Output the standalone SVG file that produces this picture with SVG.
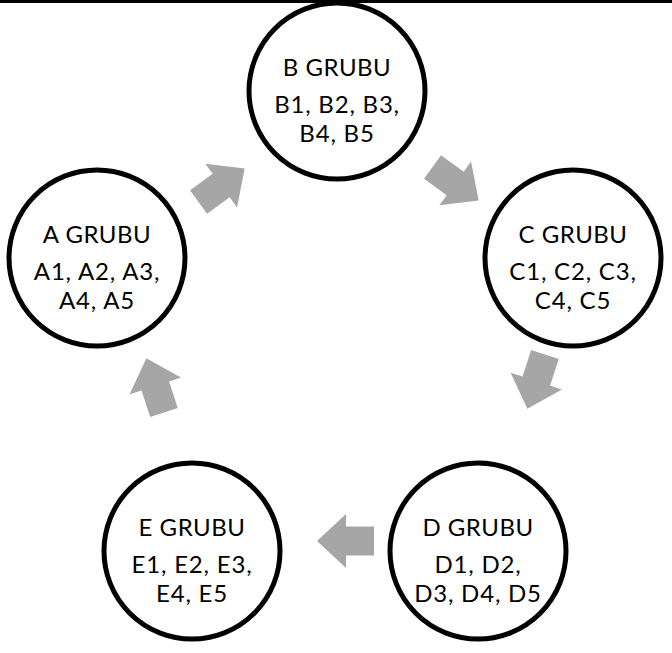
<svg xmlns="http://www.w3.org/2000/svg" width="672" height="653" viewBox="0 0 672 653">
<defs>
<style>
.node circle{fill:#fff;stroke:#000;stroke-width:5}
.node text{font-family:Lato,"Liberation Sans",sans-serif;font-size:24px;fill:#000;text-anchor:middle;letter-spacing:0.8px}
.node text.t{letter-spacing:0.5px}
.arrow{fill:#a6a6a6}
</style>
<polygon id="arr" points="28,0 -1,-27 -1,-14.5 -29,-14.5 -29,14.5 -1,14.5 -1,27"/>
</defs>
<rect x="0" y="0" width="672" height="653" fill="#fff"/>
<g id="connectors">
<use href="#arr" class="arrow" transform="translate(222,185) rotate(-36)"/>
<use href="#arr" class="arrow" transform="translate(456,184) rotate(36)"/>
<use href="#arr" class="arrow" transform="translate(536,382) rotate(108)"/>
<use href="#arr" class="arrow" transform="translate(345,541) rotate(180)"/>
<use href="#arr" class="arrow" transform="translate(155,385) rotate(-108)"/>
</g>
<g id="nodeB" class="node">
<circle cx="337" cy="91" r="88"/>
<text class="t" x="337" y="76">B GRUBU</text>
<text x="337" y="113">B1, B2, B3,</text>
<text x="337" y="142">B4, B5</text>
</g>
<g id="nodeA" class="node">
<circle cx="97" cy="258" r="88"/>
<text class="t" x="97" y="243">A GRUBU</text>
<text x="97" y="280">A1, A2, A3,</text>
<text x="97" y="309">A4, A5</text>
</g>
<g id="nodeC" class="node">
<circle cx="573" cy="258" r="88"/>
<text class="t" x="573" y="243">C GRUBU</text>
<text x="573" y="280">C1, C2, C3,</text>
<text x="573" y="309">C4, C5</text>
</g>
<g id="nodeD" class="node">
<circle cx="478" cy="551" r="88"/>
<text class="t" x="478" y="536">D GRUBU</text>
<text x="478" y="573">D1, D2,</text>
<text x="478" y="602">D3, D4, D5</text>
</g>
<g id="nodeE" class="node">
<circle cx="192" cy="551" r="88"/>
<text class="t" x="192" y="536">E GRUBU</text>
<text x="192" y="573">E1, E2, E3,</text>
<text x="192" y="602">E4, E5</text>
</g>
<rect x="0" y="0" width="672" height="3" fill="#000"/>
</svg>
